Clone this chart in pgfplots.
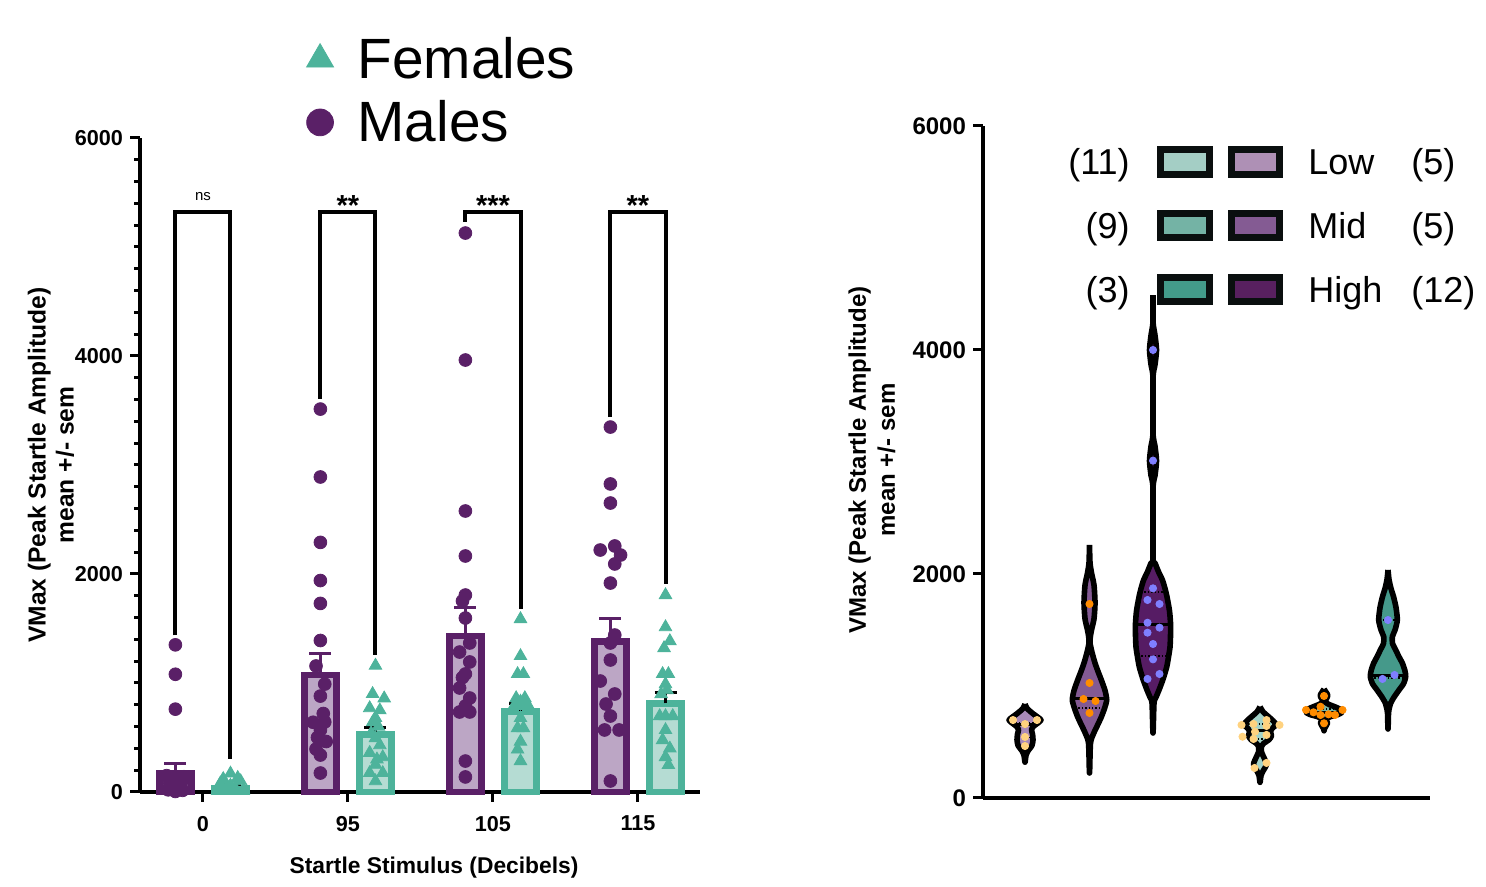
\documentclass[border=0pt]{standalone}
\usepackage{fontspec}
\setmainfont{Liberation Sans}
\usepackage{pgfplots}
\pgfplotsset{compat=1.18}

\definecolor{malec}{HTML}{5A2067}
\definecolor{malefill}{HTML}{BCA6C5}
\definecolor{femc}{HTML}{4DB39B}
\definecolor{femfill}{HTML}{B5DCD3}
\definecolor{mlow}{HTML}{A98AB8}
\definecolor{mmid}{HTML}{835A93}
\definecolor{mhigh}{HTML}{561C64}
\definecolor{flow}{HTML}{A3D2C9}
\definecolor{fmid}{HTML}{76B6A8}
\definecolor{fhigh}{HTML}{45998A}
\definecolor{boxline}{HTML}{0A0F0F}
\definecolor{dotlow}{HTML}{FFD27F}
\definecolor{dotmid}{HTML}{FF8C00}
\definecolor{dothigh}{HTML}{7F7FFF}

\pgfplotsset{
  panel/.style={
    scale only axis, anchor=south west, clip=false,
    ymin=0, ymax=6000,
    axis x line*=bottom, axis y line*=left,
    axis line style={-, line width=2pt},
    ytick={0,2000,4000,6000}, yticklabels={0,2000,4000,6000},
    tick align=outside, major tick length=5pt, minor tick length=3pt,
    tick style={line width=1.5pt, black},
  },
  violin/.style={draw=black, line width=2.8pt, smooth, tension=0.4, line join=round},
  med/.style={black, line width=1.5pt},
  quart/.style={black, line width=0.7pt, densely dotted},
}

\begin{document}
\begin{tikzpicture}
\useasboundingbox (0,0) rectangle (743pt,443.5pt);

% ---------------- left panel: bars + points ----------------
\begin{axis}[panel,
  at={(70pt,47.5pt)}, width=280pt, height=327pt,
  xmin=-0.434, xmax=3.428,
  xtick={0,1,2,3}, xticklabels={0,95,105,115},
  minor y tick num=9,
  ticklabel style={font=\bfseries\fontsize{10.8}{12}\selectfont},
  xticklabel style={yshift=-3.5pt},
  legend style={at={(axis description cs:0.286,1.167)}, anchor=north west,
    draw=none, fill=none, font=\fontsize{28.4}{30}\selectfont,
    row sep=5.5pt, legend cell align=left,
    /tikz/every odd column/.append style={column sep=10pt}},
]
\addlegendimage{only marks, mark=triangle*, mark size=7.8pt, color=femc}
\addlegendentry{Females}
\addlegendimage{only marks, mark=*, mark size=6.7pt, color=malec}
\addlegendentry{Males}

% bars
\addplot[ybar, bar shift=0pt, bar width=0.222, draw=malec, fill=malefill, line width=3.3pt, forget plot]
  coordinates {(-0.19,170) (0.81,1075) (1.81,1430) (2.81,1380)};
\addplot[ybar, bar shift=0pt, bar width=0.222, draw=femc, fill=femfill, line width=3.3pt, forget plot]
  coordinates {(0.19,30) (1.19,530) (2.19,740) (3.19,812)};

% error bars (sem, upward)
\addplot[draw=none, mark=none, forget plot,
  error bars/.cd, y dir=plus, y explicit, error mark=|,
  error bar style={line width=1.5pt, malec},
  error mark options={line width=1.5pt, malec, mark size=5.5pt}]
  coordinates {(-0.19,170) +- (0,87) (0.81,1075) +- (0,197) (1.81,1430) +- (0,260) (2.81,1380) +- (0,210)};
\addplot[draw=none, mark=none, forget plot,
  error bars/.cd, y dir=plus, y explicit, error mark=|,
  error bar style={line width=1.5pt, black},
  error mark options={line width=1.5pt, black, mark size=5.5pt}]
  coordinates {(0.19,30) +- (0,40) (1.19,530) +- (0,65) (2.19,740) +- (0,70) (3.19,812) +- (0,98)};

% individual animals, males
\addplot[only marks, mark=*, mark size=3.2pt, color=malec, forget plot] coordinates {
  (-0.19,1350) (-0.19,1080) (-0.19,760) (-0.23,90) (-0.15,80) (-0.19,40) (-0.24,20)
  (-0.14,15) (-0.19,5) (-0.21,60) (-0.17,30) (-0.19,120) (-0.25,150) (-0.13,140)
  (0.81,3513) (0.81,2890) (0.81,2290) (0.81,1940) (0.81,1730) (0.81,1390) (0.78,1156)
  (0.84,990) (0.81,880) (0.76,640) (0.84,642) (0.81,568) (0.85,463) (0.78,394)
  (0.81,339) (0.81,174) (0.83,720) (0.79,500)
  (1.81,5128) (1.81,3963) (1.81,2578) (1.81,2165) (1.81,1807) (1.79,1752) (1.81,1596)
  (1.84,1367) (1.77,1284) (1.84,1193) (1.81,1083) (1.77,954) (1.84,862) (1.81,789)
  (1.77,734) (1.84,734) (1.81,284) (1.81,138) (1.79,1050)
  (2.81,3348) (2.81,2826) (2.81,2651) (2.74,2220) (2.84,2257) (2.88,2174) (2.84,2092)
  (2.81,1917) (2.84,1440) (2.81,1367) (2.81,1211) (2.74,1018) (2.84,899) (2.78,807)
  (2.81,697) (2.77,569) (2.87,569) (2.81,101)
};
% females
\addplot[only marks, mark=triangle*, mark size=3.6pt, color=femc, forget plot] coordinates {
  (0.19,170) (0.12,80) (0.26,100) (0.16,40) (0.22,40) (0.10,15) (0.28,15) (0.19,60)
  (0.19,10) (0.14,120) (0.24,130)
  (1.19,1160) (1.17,900) (1.25,860) (1.15,770) (1.22,750) (1.19,680) (1.17,640)
  (1.21,600) (1.16,540) (1.19,495) (1.22,430) (1.15,360) (1.24,320) (1.19,250)
  (1.15,175) (1.24,175) (1.19,100) (1.20,300)
  (2.19,1587) (2.19,1248) (2.17,1083) (2.21,1083) (2.16,862) (2.19,830) (2.22,862)
  (2.15,800) (2.20,789) (2.24,800) (2.19,679) (2.17,587) (2.21,587) (2.19,463)
  (2.17,390) (2.19,284)
  (3.19,1807) (3.19,1513) (3.22,1385) (3.18,1321) (3.17,1083) (3.21,1083) (3.19,990)
  (3.20,935) (3.16,899) (3.15,697) (3.19,697) (3.24,697) (3.19,569) (3.17,477)
  (3.22,400) (3.19,321) (3.21,248)
};

% significance brackets
\addplot[black, line width=2pt, line join=miter, forget plot] coordinates {(-0.19,1438) (-0.19,5320) (0.19,5320) (0.19,300)};
\addplot[black, line width=2pt, line join=miter, forget plot] coordinates {(0.81,3610) (0.81,5320) (1.19,5320) (1.19,1260)};
\addplot[black, line width=2pt, line join=miter, forget plot] coordinates {(1.81,5230) (1.81,5320) (2.19,5320) (2.19,1676)};
\addplot[black, line width=2pt, line join=miter, forget plot] coordinates {(2.81,3440) (2.81,5320) (3.19,5320) (3.19,1905)};
\node[anchor=base, font=\fontsize{7.5}{9}\selectfont] at (axis cs:0,5422) {ns};
\node[anchor=base, font=\bfseries\fontsize{14.5}{16}\selectfont] at (axis cs:1,5290) {**};
\node[anchor=base, font=\bfseries\fontsize{14.5}{16}\selectfont] at (axis cs:2,5290) {***};
\node[anchor=base, font=\bfseries\fontsize{14.5}{16}\selectfont] at (axis cs:3,5290) {**};
\end{axis}

\node[rotate=90, align=center, font=\bfseries\fontsize{12.3}{14}\selectfont] at (25.5pt,211pt)
  {VMax (Peak Startle Amplitude)\\mean +/- sem};
\node[font=\bfseries\fontsize{11.4}{13}\selectfont] at (217pt,9.5pt) {Startle Stimulus (Decibels)};

% ---------------- right panel: violins ----------------
\begin{axis}[panel,
  at={(491.5pt,44.5pt)}, width=223.5pt, height=336pt,
  xmin=983, xmax=1430, xtick=\empty,
  ticklabel style={font=\bfseries\fontsize{12}{13}\selectfont},
]
% males low / mid / high
\addplot[violin, fill=mlow] coordinates {
  (1025,839) (1027,800) (1032,760) (1038,720) (1041,696) (1038,670) (1033.5,640)
  (1031.5,610) (1032.5,570) (1033,520) (1032,470) (1028,420) (1026,380) (1025,320)
  (1024,380) (1022,420) (1018,470) (1017,520) (1017.5,570) (1018.5,610) (1016.5,640)
  (1012,670) (1009,696) (1012,720) (1018,760) (1023,800) (1025,839)};
\addplot[violin, fill=mmid] coordinates {
  (1089.5,2259) (1090,2100) (1091.5,2009) (1094,1900) (1095,1741) (1094,1600) (1091.5,1500)
  (1090.3,1438) (1090,1384) (1092,1300) (1095,1205) (1098,1130) (1101.3,1054) (1105,960)
  (1106.7,875) (1104.5,800) (1101.3,723) (1097.5,650) (1093.8,580) (1090.5,491) (1089.5,223)
  (1088.5,491) (1085.2,580) (1081.5,650) (1077.7,723) (1074.5,800) (1072.3,875) (1074,960)
  (1077.7,1054) (1081,1130) (1084,1205) (1087,1300) (1089,1384) (1088.7,1438) (1087.5,1500)
  (1085,1600) (1084,1741) (1085,1900) (1087.5,2009) (1089,2100) (1089.5,2259)};
\addplot[violin, fill=mhigh] coordinates {
  (1153,4490) (1153,4250) (1155,4130) (1156.5,4000) (1155,3870) (1153,3750) (1153,3260)
  (1155,3140) (1156.5,3010) (1155,2880) (1153,2760) (1153,2150) (1155,2098) (1158.5,2020)
  (1162.4,1946) (1165,1870) (1167,1795) (1169.5,1670) (1170.6,1545) (1170.5,1450) (1170,1348)
  (1168.5,1260) (1166.7,1170) (1163,1060) (1159,964) (1156,900) (1154,848) (1153,580)
  (1152,848) (1150,900) (1147,964) (1143,1060) (1139.3,1170) (1137.5,1260) (1136,1348)
  (1135.5,1450) (1135.4,1545) (1136.5,1670) (1139,1795) (1141,1870) (1143.6,1946) (1147.5,2020)
  (1151,2098) (1153,2150) (1153,2760) (1151,2880) (1149.5,3010) (1151,3140) (1153,3260)
  (1153,3750) (1151,3870) (1149.5,4000) (1151,4130) (1153,4250) (1153,4490)};
% females low / mid / high
\addplot[violin, fill=flow] coordinates {
  (1260,815) (1263,770) (1268.5,726) (1273,690) (1276,655) (1272,620) (1270.5,590)
  (1271.5,555) (1269,520) (1264,490) (1261.5,460) (1261.5,410) (1264,360) (1266.5,300)
  (1263,240) (1261,200) (1260,140)
  (1259,200) (1257,240) (1253.5,300) (1256,360) (1258.5,410) (1258.5,460) (1256,490)
  (1251,520) (1248.5,555) (1249.5,590) (1248,620) (1244,655) (1247,690) (1251.5,726)
  (1257,770) (1260,815)};
\addplot[violin, fill=fmid] coordinates {
  (1324,973) (1326,945) (1327.5,925) (1327.5,905) (1326,880) (1325.5,855) (1329,835)
  (1336,810) (1341.5,785) (1342,765) (1338,745) (1330,725) (1326,705) (1326.5,690)
  (1327.5,670) (1326.5,650) (1324.5,620) (1324,600)
  (1323.5,620) (1321.5,650) (1320.5,670) (1321.5,690) (1322,705) (1318,725) (1310,745)
  (1306,765) (1306.5,785) (1312,810) (1319,835) (1322.5,855) (1322,880) (1320.5,905)
  (1320.5,925) (1322,945) (1324,973)};
\addplot[violin, fill=fhigh] coordinates {
  (1388,2036) (1389,1950) (1391,1870) (1393.5,1798) (1396,1700) (1397.3,1589) (1395,1500)
  (1392.3,1440) (1392.5,1380) (1395.7,1321) (1399,1260) (1402.3,1205) (1404.8,1140)
  (1405.7,1083) (1403.5,1020) (1399,964) (1394,900) (1390.7,848) (1389,790) (1388.5,759)
  (1388,616)
  (1387.5,759) (1387,790) (1385.3,848) (1382,900) (1377,964) (1372.5,1020) (1370.3,1083)
  (1371.2,1140) (1373.7,1205) (1377,1260) (1380.3,1321) (1383.5,1380) (1383.7,1440)
  (1381,1500) (1378.7,1589) (1380,1700) (1382.5,1798) (1385,1870) (1387,1950) (1388,2036)};

% medians (solid) and quartiles (dotted)
\addplot[med] coordinates {(1014,655) (1036,655)};
\addplot[quart] coordinates {(1012,670) (1038,670)};
\addplot[quart] coordinates {(1019,540) (1031,540)};
\addplot[med] coordinates {(1073,884) (1106,884)};
\addplot[quart] coordinates {(1075,804) (1104,804)};
\addplot[med] coordinates {(1136,1545) (1170,1545)};
\addplot[quart] coordinates {(1141,1840) (1165,1840)};
\addplot[quart] coordinates {(1138,1268) (1168,1268)};
\addplot[med] coordinates {(1249.5,600) (1270.5,600)};
\addplot[quart] coordinates {(1245,661) (1275,661)};
\addplot[quart] coordinates {(1251,527) (1269,527)};
\addplot[med] coordinates {(1307,765) (1341,765)};
\addplot[quart] coordinates {(1309,795) (1339,795)};
\addplot[quart] coordinates {(1315,735) (1333,735)};
\addplot[med] coordinates {(1371,1098) (1405,1098)};
\addplot[quart] coordinates {(1379.5,1589) (1396.5,1589)};
\addplot[quart] coordinates {(1371,1071) (1405,1071)};

% individual animals
\addplot[only marks, mark=*, mark size=1.8pt, color=dotlow] coordinates {
  (1013,696) (1025,660) (1037,696) (1025,545) (1025,464)
  (1241.5,652) (1253.5,661) (1266.5,696) (1279.5,652) (1255,592) (1266.5,643)
  (1253.5,527) (1266.5,563) (1242.5,547) (1266.5,313) (1254.5,268)};
\addplot[only marks, mark=*, mark size=1.8pt, color=dotmid] coordinates {
  (1089.5,1732) (1089.5,1027) (1083.5,884) (1095.5,866) (1089.5,759)
  (1324,911) (1306,786) (1320.5,815) (1313.5,765) (1320.5,741) (1328.5,747)
  (1335,741) (1342.5,786) (1324,667)};
\addplot[only marks, mark=*, mark size=1.8pt, color=dothigh] coordinates {
  (1153,4000) (1153,3012) (1153,1872) (1147.5,1768) (1159.5,1732) (1147.5,1565)
  (1159.5,1521) (1147.5,1476) (1153,1375) (1153,1238) (1159.5,1107) (1147.5,1063)
  (1388,1589) (1382.5,1063) (1394.5,1098)};
\end{axis}

\node[rotate=90, align=center, font=\bfseries\fontsize{12}{14.5}\selectfont] at (436pt,213.5pt)
  {VMax (Peak Startle Amplitude)\\mean +/- sem};

% legend of the violin panel
\begin{scope}[every node/.style={font=\fontsize{18}{20}\selectfont, inner sep=0pt}]
  \foreach \yc/\tcol/\pcol/\nf/\lab/\nm in {362.5/{A4CEC5}/{AE90B5}/(11)/Low/(5),
      330.75/{74B3A5}/{845B93}/(9)/Mid/(5), 298.75/{439B8A}/{58205F}/(3)/High/(12)} {
    \definecolor{tc}{HTML}{\tcol}\definecolor{pc}{HTML}{\pcol}
    \draw[boxline, line width=3.5pt, fill=tc] (580.4pt,\yc pt-6.1pt) rectangle (604.6pt,\yc pt+6.1pt);
    \draw[boxline, line width=3.5pt, fill=pc] (615.5pt,\yc pt-6.1pt) rectangle (639.7pt,\yc pt+6.1pt);
    \node[anchor=base east] at (565pt,\yc pt-6.3pt) {\nf};
    \node[anchor=base west] at (654pt,\yc pt-6.3pt) {\lab};
    \node[anchor=base west] at (705.5pt,\yc pt-6.3pt) {\nm};
  }
\end{scope}
\end{tikzpicture}
\end{document}
